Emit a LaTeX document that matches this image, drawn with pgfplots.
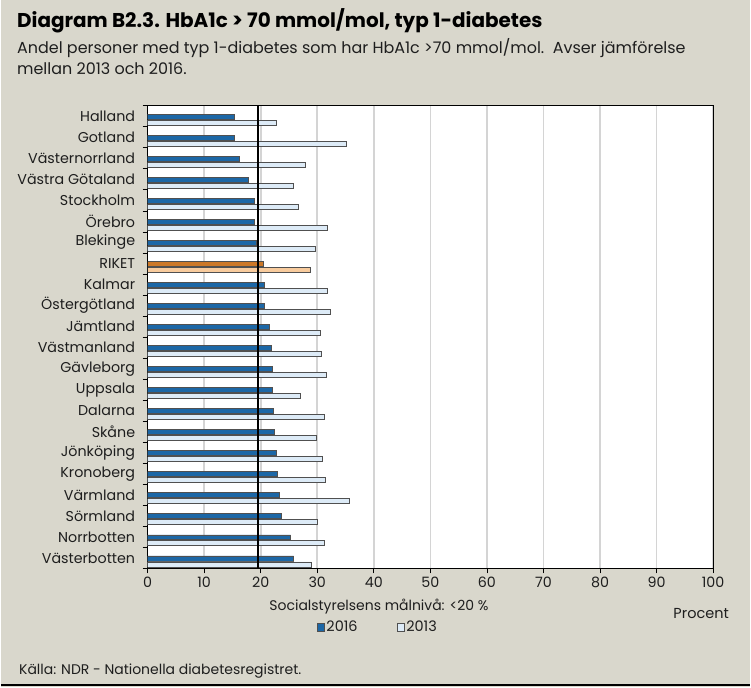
\documentclass[border=0pt]{standalone}
\usepackage{fontspec}
\setmainfont{Poppins}
\usepackage{pgfplots}
\pgfplotsset{compat=1.18}
\definecolor{bg}{RGB}{217,215,204}
\definecolor{b16}{RGB}{28,103,166}
\definecolor{b13}{RGB}{221,235,247}
\definecolor{bord}{RGB}{80,80,80}
\definecolor{o16}{RGB}{204,120,40}
\definecolor{o13}{RGB}{248,203,157}
\definecolor{gridc}{RGB}{212,212,212}
\definecolor{txt}{RGB}{30,30,30}
\begin{document}
\begin{tikzpicture}[x=1pt,y=1pt]
\fill[bg] (0,0) rectangle (751,-689);
\draw[black, line width=2pt] (0,-687) -- (751,-687);
\node[anchor=base west, inner sep=0pt, text=black, font=\bfseries\fontsize{20}{22}\selectfont] at (16,-28) {Diagram B2.3. HbA1c > 70 mmol/mol, typ 1-diabetes};
\node[anchor=base west, inner sep=0pt, text=txt, font=\fontsize{16}{20}\selectfont] at (16,-54) {Andel personer med typ 1-diabetes som har HbA1c >70 mmol/mol.\ \ Avser jämförelse};
\node[anchor=base west, inner sep=0pt, text=txt, font=\fontsize{16}{20}\selectfont] at (16,-75) {mellan 2013 och 2016.};
\node[anchor=base, inner sep=0pt, text=txt, font=\fontsize{14}{16}\selectfont] at (379,-612) {Socialstyrelsens målnivå: <20 \%};
\node[anchor=base, inner sep=0pt, text=txt, font=\fontsize{14.5}{16}\selectfont] at (702,-620) {Procent};
\node[anchor=base west, inner sep=0pt, text=txt, font=\fontsize{14}{16}\selectfont] at (18,-676) {Källa: NDR - Nationella diabetesregistret.};
\begin{axis}[
  at={(147pt,-570pt)}, anchor=south west,
  scale only axis, width=567pt, height=464pt,
  xmin=0, xmax=100, ymin=-0.5, ymax=21.5,
  xbar, bar width=5pt,
  axis background/.style={fill=white},
  axis line style={black, line width=1pt},
  xtick={0,10,...,100}, xtick pos=bottom, ytick pos=left,
  xmajorgrids, major grid style={draw=gridc, line width=1.6pt},
  tick align=outside, major tick length=5pt, minor tick length=5pt,
  xtick style={black, line width=0.8pt},
  ytick={0,...,21},
  yticklabels={Västerbotten,Norrbotten,Sörmland,Värmland,Kronoberg,Jönköping,Skåne,Dalarna,Uppsala,Gävleborg,Västmanland,Jämtland,Östergötland,Kalmar,RIKET,Blekinge,Örebro,Stockholm,Västra Götaland,Västernorrland,Gotland,Halland},
  major y tick style={draw=none},
  minor ytick={-0.5,0.5,...,21.5},
  minor y tick style={black, line width=0.8pt},
  ticklabel style={font=\fontsize{14.3}{16}\selectfont, text=txt},
  yticklabel style={xshift=-4pt},
  /pgf/number format/assume math mode=true,
  legend style={at={(axis description cs:0.407,-0.127)}, anchor=center, draw=none, fill=none,
    legend columns=2, font=\fontsize{14.5}{16}\selectfont, text=txt,
    /tikz/every even column/.append style={column sep=38pt},
    nodes={inner xsep=1.5pt}},
  legend image code/.code={\draw[line width=0.8pt] (0pt,-4pt) rectangle (7pt,4pt);},
]
\addplot[draw=bord, line width=0.9pt, fill=b16, bar shift=-0.5pt] coordinates {
(15.4,21) (15.4,20) (16.3,19) (17.8,18) (18.9,17) (18.9,16) (19.3,15)
(20.6,13) (20.6,12) (21.5,11) (21.9,10) (22.1,9) (22.1,8) (22.3,7) (22.4,6)
(22.8,5) (23.0,4) (23.3,3) (23.7,2) (25.3,1) (25.8,0)};
\addlegendentry{2016}
\addplot[draw=bord, line width=0.9pt, fill=b13, bar shift=-6.5pt] coordinates {
(22.7,21) (35.1,20) (27.9,19) (25.8,18) (26.7,17) (31.8,16) (29.7,15)
(31.8,13) (32.3,12) (30.6,11) (30.8,10) (31.7,9) (27.1,8) (31.2,7) (29.8,6)
(30.9,5) (31.5,4) (35.7,3) (30.1,2) (31.2,1) (28.9,0)};
\addlegendentry{2013}
\addplot[draw=bord, line width=0.9pt, fill=o16, bar shift=-0.5pt, forget plot] coordinates {(20.5,14)};
\addplot[draw=bord, line width=0.9pt, fill=o13, bar shift=-6.5pt, forget plot] coordinates {(28.8,14)};
\addplot[black, line width=2pt, sharp plot, forget plot] coordinates {(19.5,-0.5) (19.5,21.5)};
\end{axis}
\end{tikzpicture}
\end{document}
